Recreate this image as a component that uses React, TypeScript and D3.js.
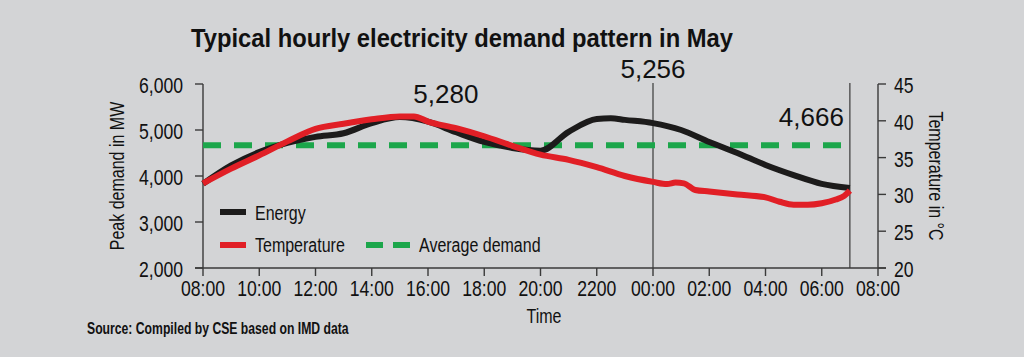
import React from "react";
import * as d3 from "d3";

// ---- data ----
const xTickLabels = ["08:00", "10:00", "12:00", "14:00", "16:00", "18:00", "20:00", "2200", "00:00", "02:00", "04:00", "06:00", "08:00"];
const leftTicks = [2000, 3000, 4000, 5000, 6000];
const rightTicks = [20, 25, 30, 35, 40, 45];

// hours after 08:00
const energyHours = [0, 1, 2, 3, 4, 5, 6, 7, 8, 9, 10, 11, 12, 13, 14, 14.5, 15, 16, 17, 18, 19, 20, 21, 22, 23];
const energyMW = [3830, 4230, 4520, 4720, 4850, 4930, 5150, 5280, 5180, 4950, 4740, 4610, 4550, 4960, 5240, 5256, 5220, 5150, 5000, 4740, 4500, 4240, 4020, 3830, 3740];

const tempHours = [0, 1, 2, 3, 4, 5, 6, 7, 7.5, 8, 9, 10, 11, 12, 13, 14, 15, 16, 16.5, 16.8, 17.1, 17.5, 18, 19, 20, 20.5, 21, 21.5, 22, 22.5, 22.8, 23];
const tempC = [31.5, 33.5, 35.3, 37.2, 38.9, 39.6, 40.2, 40.6, 40.6, 39.9, 39.0, 37.9, 36.6, 35.4, 34.7, 33.7, 32.5, 31.7, 31.4, 31.6, 31.5, 30.6, 30.4, 30.0, 29.6, 29.0, 28.6, 28.6, 28.8, 29.3, 29.8, 30.5];

const averageDemand = 4666;
const peakLabels = [
  { text: "5,280", hour: 7 },
  { text: "5,256", hour: 16 },
  { text: "4,666", hour: 23 },
];
const markerHours = [16, 23];

const SANS = "'Liberation Sans', Arial, sans-serif";
const BG = "#d3d4d6";
const RED = "#e11f26";
const GREEN = "#1ca64b";
const BLACK = "#1c1b1b";
const AXIS = "#3a3a3a";
const SX = 0.8;

function CText({ x, y, anchor = "start", size, weight = "normal", rotate = 0, sx = SX, children }: any) {
  return (
    <g transform={`translate(${x},${y}) rotate(${rotate}) scale(${sx},1)`}>
      <text x={0} y={0} textAnchor={anchor} fontFamily={SANS} fontSize={size} fontWeight={weight} fill="#111">
        {children}
      </text>
    </g>
  );
}

export default function App() {
  const W = 1024, H = 357;
  const x = d3.scaleLinear().domain([0, 24]).range([203, 878]);
  const yL = d3.scaleLinear().domain([2000, 6000]).range([268, 84]);
  const yR = d3.scaleLinear().domain([20, 45]).range([268, 84]);

  const energyLine = d3.line<number>()
    .x((_, i) => x(energyHours[i]))
    .y((d) => yL(d))
    .curve(d3.curveMonotoneX);
  const tempLine = d3.line<number>()
    .x((_, i) => x(tempHours[i]))
    .y((d) => yR(d))
    .curve(d3.curveMonotoneX);

  const xTicks = d3.range(0, 25, 2);

  return (
    <svg width={W} height={H} style={{ position: "absolute", left: 0, top: 0, background: BG }}>
      <rect x={0} y={0} width={W} height={H} fill={BG} />
      <text x={191} y={47} fontFamily={SANS} fontWeight="bold" fontSize={25} fill="#111" textLength={542} lengthAdjust="spacingAndGlyphs">
        Typical hourly electricity demand pattern in May
      </text>

      {/* marker lines */}
      {markerHours.map((h) => (
        <line key={h} x1={x(h)} x2={x(h)} y1={83} y2={yL(2000)} stroke={AXIS} strokeWidth={1.2} />
      ))}

      {/* left axis */}
      <line x1={x(0)} x2={x(0)} y1={yL(6000)} y2={yL(2000)} stroke={AXIS} strokeWidth={1.4} />
      {leftTicks.map((t) => (
        <g key={t}>
          <line x1={x(0) - 8} x2={x(0)} y1={yL(t)} y2={yL(t)} stroke={AXIS} strokeWidth={1.4} />
          <CText x={183} y={yL(t) + 9} anchor="end" size={22}>{d3.format(",")(t)}</CText>
        </g>
      ))}
      <CText x={124} y={176} anchor="middle" size={20} rotate={-90}>Peak demand in MW</CText>

      {/* right axis */}
      <line x1={x(24)} x2={x(24)} y1={yR(45)} y2={yR(20)} stroke={AXIS} strokeWidth={1.4} />
      {rightTicks.map((t) => (
        <g key={t}>
          <line x1={x(24)} x2={x(24) + 8} y1={yR(t)} y2={yR(t)} stroke={AXIS} strokeWidth={1.4} />
          <CText x={894} y={yR(t) + 9} size={22}>{t}</CText>
        </g>
      ))}
      <CText x={929} y={176} anchor="middle" size={20} rotate={90}>Temperature in °C</CText>

      {/* x axis */}
      <line x1={x(0) - 8} x2={x(24) + 8} y1={yL(2000)} y2={yL(2000)} stroke={AXIS} strokeWidth={1.4} />
      {xTicks.map((h, i) => (
        <g key={h}>
          <line x1={x(h)} x2={x(h)} y1={yL(2000)} y2={yL(2000) + 8} stroke={AXIS} strokeWidth={1.4} />
          <CText x={x(h)} y={296} anchor="middle" size={22}>{xTickLabels[i]}</CText>
        </g>
      ))}
      <CText x={544} y={323} anchor="middle" size={20}>Time</CText>

      {/* average line */}
      <line x1={x(0)} x2={x(23)} y1={yL(averageDemand)} y2={yL(averageDemand)} stroke={GREEN} strokeWidth={6} strokeDasharray="18,13" />

      {/* series */}
      <path d={energyLine(energyMW) || ""} fill="none" stroke={BLACK} strokeWidth={6} />
      <path d={tempLine(tempC) || ""} fill="none" stroke={RED} strokeWidth={6} />

      {/* peak labels */}
      <text x={x(peakLabels[0].hour) + 46} y={103} textAnchor="middle" fontFamily={SANS} fontSize={26} fill="#111">{peakLabels[0].text}</text>
      <text x={x(peakLabels[1].hour)} y={78} textAnchor="middle" fontFamily={SANS} fontSize={26} fill="#111">{peakLabels[1].text}</text>
      <text x={x(peakLabels[2].hour) - 6} y={126} textAnchor="end" fontFamily={SANS} fontSize={26} fill="#111">{peakLabels[2].text}</text>

      {/* legend */}
      <line x1={220} x2={246} y1={212} y2={212} stroke={BLACK} strokeWidth={6} />
      <CText x={255} y={220} size={20}>Energy</CText>
      <line x1={220} x2={246} y1={245} y2={245} stroke={RED} strokeWidth={6} />
      <CText x={255} y={252} size={20}>Temperature</CText>
      <line x1={366} x2={410} y1={245} y2={245} stroke={GREEN} strokeWidth={6} strokeDasharray="17,10" />
      <CText x={419} y={252} size={20}>Average demand</CText>

      <CText x={87} y={334} size={16.5} weight="bold" sx={0.74}>Source: Compiled by CSE based on IMD data</CText>
    </svg>
  );
}
